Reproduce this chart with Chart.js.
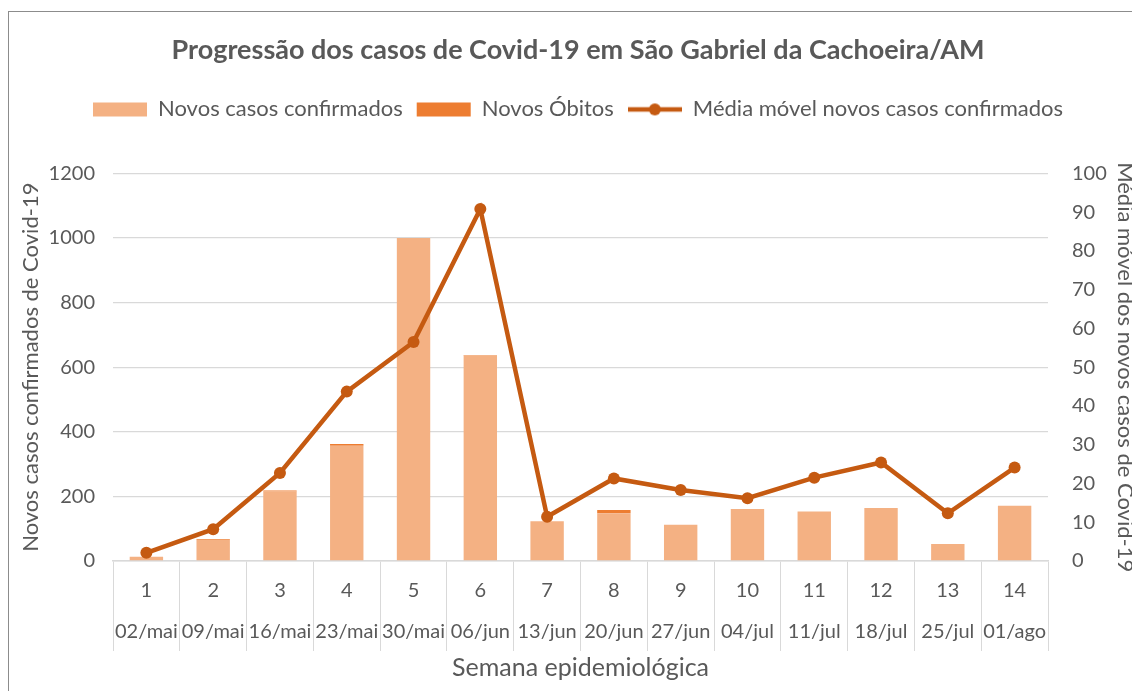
<!DOCTYPE html>
<html>
<head>
<meta charset="utf-8">
<script src="https://cdn.jsdelivr.net/npm/chart.js@4"></script>
<style>
  body { margin: 0; background: #fff; overflow: hidden; }
  #wrap { position: relative; width: 1132px; height: 691px; }
  #frame { position: absolute; left: 8px; top: 11px; width: 1140px; height: 700px;
           border-left: 1.5px solid #8c8c8c; border-top: 1.5px solid #8c8c8c; pointer-events: none; }
</style>
</head>
<body>
<div id="wrap">
  <canvas id="chart" width="1132" height="691"></canvas>
  <div id="frame"></div>
</div>
<script>
const semanas = ['1', '2', '3', '4', '5', '6', '7', '8', '9', '10', '11', '12', '13', '14'];
const datas = ['02/mai', '09/mai', '16/mai', '23/mai', '30/mai', '06/jun', '13/jun', '20/jun', '27/jun', '04/jul', '11/jul', '18/jul', '25/jul', '01/ago'];
const novosCasos = [13, 65, 215, 357, 1000, 636, 123, 148, 112, 161, 153, 164, 53, 171];
const novosObitos = [0, 2, 3, 5, 0, 2, 0, 10, 0, 0, 0, 0, 0, 0];
const mediaMovel = [2.1, 8.2, 22.7, 43.7, 56.5, 90.8, 11.4, 21.3, 18.3, 16.2, 21.5, 25.4, 12.3, 24.1];

const grey = '#595959';
const gridColor = '#d9d9d9';
const font = 'Lato';

// little line-with-dot symbol for the legend
const lineIcon = document.createElement('canvas');
lineIcon.width = 54;
lineIcon.height = 14;
const ic = lineIcon.getContext('2d');
ic.strokeStyle = '#C55A11';
ic.lineWidth = 4.5;
ic.beginPath(); ic.moveTo(0, 7); ic.lineTo(54, 7); ic.stroke();
ic.fillStyle = '#C55A11';
ic.beginPath(); ic.arc(27, 7, 6, 0, Math.PI * 2); ic.fill();

const legendSpace = {
    id: 'legendSpace',
    beforeInit(chart) {
        const fit = chart.legend.fit;
        chart.legend.fit = function () {
            fit.bind(chart.legend)();
            this.height = 89;
        };
    }
};

const ctx = document.getElementById('chart');

new Chart(ctx, {
    type: 'bar',
    data: {
        labels: semanas.map((s, i) => [s, datas[i]]),
        datasets: [{
                label: 'Novos casos confirmados',
                data: novosCasos,
                backgroundColor: '#F4B183',
                yAxisID: 'y',
                order: 2
            }, {
                label: 'Novos Óbitos',
                data: novosObitos,
                backgroundColor: '#ED7D31',
                yAxisID: 'y',
                order: 2
            }, {
                type: 'line',
                label: 'Média móvel novos casos confirmados',
                data: mediaMovel,
                borderColor: '#C55A11',
                backgroundColor: '#C55A11',
                borderWidth: 4.5,
                pointRadius: 6,
                pointBackgroundColor: '#C55A11',
                pointBorderWidth: 0,
                yAxisID: 'y1',
                order: 1
            }]
    },
    plugins: [legendSpace],
    options: {
        responsive: false,
        animation: false,
        datasets: { bar: { barPercentage: 0.5, categoryPercentage: 1 } },
        layout: { padding: { left: 18, right: -6, top: 0, bottom: 0 } },
        plugins: {
            title: {
                display: true,
                text: 'Progressão dos casos de Covid-19 em São Gabriel da Cachoeira/AM',
                color: grey,
                font: { family: font, size: 27, weight: 'bold' },
                padding: { top: 34, bottom: 18 }
            },
            legend: {
                labels: {
                    color: grey,
                    font: { family: font, size: 22 },
                    usePointStyle: true,
                    pointStyleWidth: 54,
                    boxHeight: 14,
                    padding: 14,
                    sort: (a, b) => a.datasetIndex - b.datasetIndex,
                    generateLabels(chart) {
                        const items = Chart.defaults.plugins.legend.labels.generateLabels(chart);
                        items.forEach(it => {
                            it.pointStyle = it.datasetIndex === 2 ? lineIcon : 'rect';
                            it.lineWidth = 0;
                        });
                        return items;
                    }
                }
            },
            tooltip: { enabled: false }
        },
        scales: {
            x: {
                stacked: true,
                afterFit(scale) { scale.height = 130; },
                grid: { offset: true, drawOnChartArea: false, tickLength: 90, color: gridColor },
                border: { color: gridColor, width: 1.5 },
                ticks: {
                    color: grey,
                    font: { family: font, size: 20, lineHeight: 2.05 },
                    padding: -81,
                    autoSkip: false,
                    maxRotation: 0
                },
                title: {
                    display: true,
                    text: 'Semana epidemiológica',
                    color: grey,
                    font: { family: font, size: 25 },
                    padding: { top: 4, bottom: 8 }
                }
            },
            y: {
                stacked: true,
                min: 0,
                max: 1200,
                afterFit(scale) { scale.width = 95; },
                ticks: { stepSize: 200, color: grey, font: { family: font, size: 20 }, padding: 18, callback: v => v },
                grid: { color: gridColor, lineWidth: 1.3, drawTicks: false },
                border: { display: false },
                title: {
                    display: true,
                    text: 'Novos casos confirmados de Covid-19',
                    color: grey,
                    font: { family: font, size: 22 },
                    padding: 0
                }
            },
            y1: {
                position: 'right',
                min: 0,
                max: 100,
                afterFit(scale) { scale.width = 90; },
                ticks: { stepSize: 10, color: grey, font: { family: font, size: 20 }, padding: 24, callback: v => v },
                grid: { drawOnChartArea: false, drawTicks: false },
                border: { display: false },
                title: {
                    display: true,
                    text: 'Média móvel dos novos casos de Covid-19',
                    color: grey,
                    font: { family: font, size: 22 },
                    padding: 0
                }
            }
        }
    }
});
</script>
</body>
</html>
